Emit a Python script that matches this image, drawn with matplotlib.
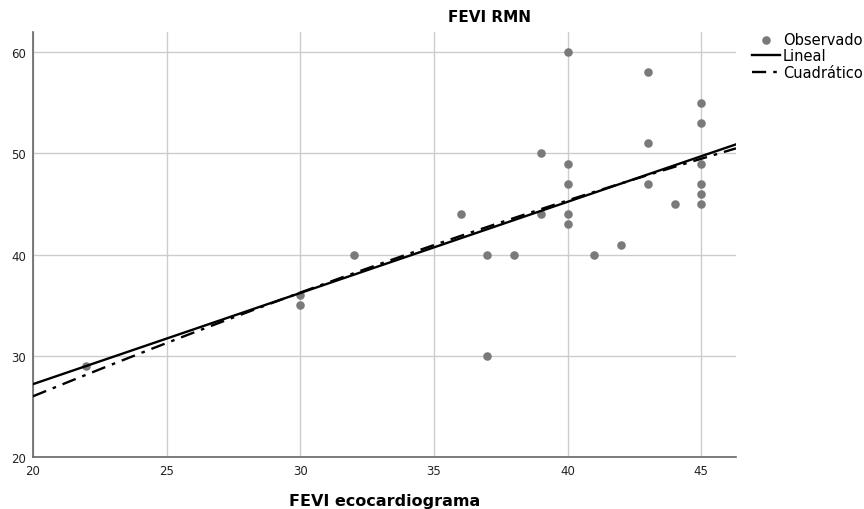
import matplotlib
matplotlib.use("Agg")
import matplotlib.pyplot as plt
import numpy as np

# observed values (FEVI ecocardiograma, FEVI RMN)
eco = [22, 30, 30, 32, 36, 37, 37, 38, 39, 39, 40, 40, 40, 40, 40,
       41, 42, 43, 43, 43, 44, 45, 45, 45, 45, 45, 45]
rmn = [29, 36, 35, 40, 44, 40, 30, 40, 50, 44, 60, 49, 47, 44, 43,
       40, 41, 58, 51, 47, 45, 55, 53, 49, 47, 46, 45]

# fitted models (highest power first)
lin_coef = [0.901, 9.18]
quad_coef = [-0.005724, 1.3111, 2.068]

x_ticks = [20, 25, 30, 35, 40, 45]
y_ticks = [20, 30, 40, 50, 60]
x_range = (20, 46.3)
y_range = (20, 62)

plt.rcParams['font.family'] = ['DejaVu Sans']

fig = plt.figure(figsize=(8.64, 5.10), dpi=100)
ax = fig.add_axes([33 / 864, 1 - 458 / 510, (736 - 33) / 864, (458 - 33) / 510])

ax.set_xlim(*x_range)
ax.set_ylim(*y_range)
ax.set_xticks(x_ticks)
ax.set_yticks(y_ticks)
ax.grid(True, color='#cccccc', linewidth=1.0)
ax.set_axisbelow(True)
ax.tick_params(length=0, labelsize=8.5, colors='#222222', pad=5)
for side in ['top', 'right']:
    ax.spines[side].set_visible(False)
for side in ['left', 'bottom']:
    ax.spines[side].set_color('#666666')
    ax.spines[side].set_linewidth(1.2)

xs = np.linspace(x_range[0], x_range[1], 200)
pts = ax.scatter(eco, rmn, s=38, color='#7a7a7a', zorder=3, label='Observado',
                 linewidths=0)
l1, = ax.plot(xs, np.polyval(lin_coef, xs), color='black', linewidth=1.7,
              label='Lineal', zorder=4)
l2, = ax.plot(xs, np.polyval(quad_coef, xs), color='black', linewidth=1.7,
              dashes=(6, 3, 1.5, 3), label='Cuadrático', zorder=4)

fig.text(489 / 864, 1 - 18 / 510, 'FEVI RMN', ha='center', va='center',
         fontsize=11, fontweight='bold')
fig.text(385 / 864, 1 - 506 / 510, 'FEVI ecocardiograma', ha='center',
         va='baseline', fontsize=11.5, fontweight='bold')

fig.legend(handles=[pts, l1, l2], loc='upper left',
           bbox_to_anchor=(752 / 864, 1 - 33 / 510), frameon=False,
           fontsize=10.5, handlelength=1.9, handletextpad=0.2,
           labelspacing=0.1, borderaxespad=0, borderpad=0)

fig.savefig('out.png', dpi=100)
